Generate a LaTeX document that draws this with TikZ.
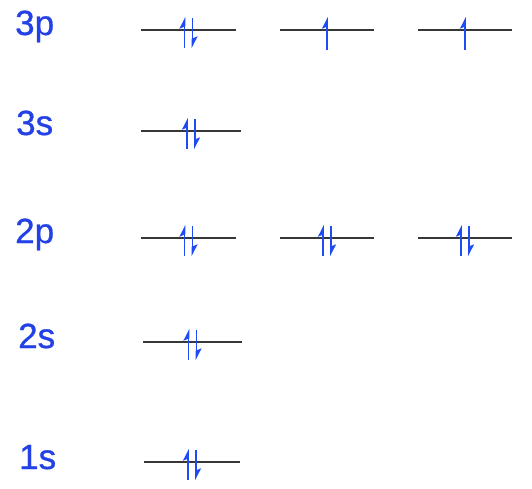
\documentclass[tikz,border=0pt]{standalone}
\usepackage{fontspec}
\setmainfont{Liberation Sans}
\newfontfamily\labfont[FakeBold=0.8]{Liberation Sans}
\usetikzlibrary{arrows.meta,calc}
\definecolor{lblue}{RGB}{35,65,228}
\definecolor{ablue}{RGB}{30,75,245}
\definecolor{lvlc}{RGB}{55,55,55}
\tikzset{
  level/.style={draw=lvlc, line width=1.5},
  spin/.style={draw=ablue, line width=1.6, -{Stealth[harpoon,length=10,width=10,inset=2]}},
  lab/.style={text=lblue, font=\labfont\fontsize{35}{35}\selectfont, anchor=base west, inner sep=0},
}
% \orbital{x-left}{x-right}{y}{electrons}
\newcommand\orbital[4]{%
  \coordinate (L) at (#1,#3);
  \coordinate (R) at (#2,#3);
  \draw[level] (L) -- (R);
  \path ($(L)!0.5!(R)$) coordinate (C);
  \ifnum#4=2
    \draw[spin] ([xshift=-4,yshift=-18]C) -- ([xshift=-4,yshift=13]C);
    \draw[spin] ([xshift=4,yshift=12]C) -- ([xshift=4,yshift=-18]C);
  \else
    \draw[spin] ([yshift=-20]C) -- ([yshift=13]C);
  \fi
}
\begin{document}
\begin{tikzpicture}[x=1pt,y=-1pt]
  \useasboundingbox (0,0) rectangle (532,488);
  % labels
  \node[lab] (l3p) at (15,35) {3p};
  \node[lab] (l3s) at (16,135) {3s};
  \node[lab] (l2p) at (15,243) {2p};
  \node[lab] (l2s) at (18,348) {2s};
  \node[lab] (l1s) at (19,469) {1s};
  % 3p
  \orbital{141}{236}{30}{2}
  \orbital{280}{374}{30}{1}
  \orbital{418}{512}{30}{1}
  % 3s
  \orbital{141}{241}{131}{2}
  % 2p
  \orbital{141}{236}{238}{2}
  \orbital{280}{374}{238}{2}
  \orbital{418}{512}{238}{2}
  % 2s
  \orbital{143}{242}{342}{2}
  % 1s
  \orbital{144}{240}{462}{2}
\end{tikzpicture}
\end{document}
